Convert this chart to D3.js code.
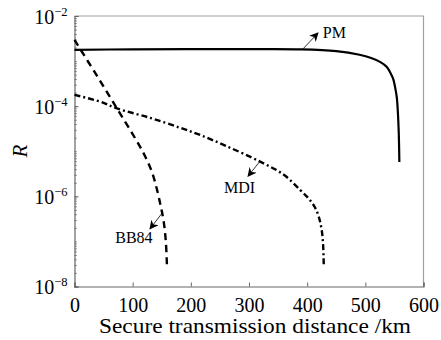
<!DOCTYPE html>
<html>
<head>
<meta charset="utf-8">
<script src="https://cdn.jsdelivr.net/npm/d3@7"></script>
<style>
  body { margin: 0; background: #fff; }
  svg { display: block; }
  svg text { font-family: "Liberation Serif", "DejaVu Serif", serif; }
</style>
</head>
<body>
<svg id="chart" width="441" height="340"></svg>
<script>
"use strict";

// distance /km and R
var pmDist   = [0, 100, 200, 300, 390, 450, 490, 510, 526, 537, 543, 548, 551, 554, 556, 557.5, 558.5];
var pmR      = [1.78e-3, 1.82e-3, 1.84e-3, 1.84e-3, 1.82e-3, 1.66e-3, 1.38e-3, 1.17e-3, 9.5e-4, 7.4e-4, 5.5e-4, 4.0e-4, 2.7e-4, 1.6e-4, 7.1e-5, 2.5e-5, 5.8e-6];
var mdiDist  = [0, 44, 73, 130, 182, 216, 260, 319, 360, 388, 402, 413, 420, 425, 427.5, 428.5];
var mdiR     = [1.78e-4, 1.26e-4, 8.9e-5, 5.5e-5, 3.3e-5, 2.3e-5, 1.32e-5, 5.9e-6, 3.0e-6, 1.38e-6, 9.1e-7, 5.8e-7, 3.5e-7, 1.78e-7, 8.0e-8, 3.0e-8];
var bb84Dist = [0, 40, 73, 100, 119, 133, 142, 148, 153, 157, 159];
var bb84R    = [2.95e-3, 4.4e-4, 8.9e-5, 2.4e-5, 8.9e-6, 3.5e-6, 1.38e-6, 6.3e-7, 2.95e-7, 1.0e-7, 2.75e-8];

var xTicks = [0, 100, 200, 300, 400, 500, 600];
var yMajor = [1e-2, 1e-4, 1e-6, 1e-8];
var yMajorExp = ["\u22122", "\u22124", "\u22126", "\u22128"];

var serif = '"Liberation Serif", "DejaVu Serif", serif';

var svg = d3.select("#chart"),
  margin = {top: 16, right: 17.5, bottom: 53.5, left: 74.5},
  width = 441 - margin.left - margin.right,
  height = 340 - margin.top - margin.bottom,
  g = svg.append("g").attr("transform", "translate(" + margin.left + "," + margin.top + ")"),
  x = d3.scaleLinear().domain([0, 600]).range([0, width]),
  y = d3.scaleLog().domain([1e-8, 1e-2]).range([height, 0])
;

// frame top / right
g.append("path")
  .attr("d", "M0,0H" + width + "V" + height)
  .attr("fill", "none")
  .attr("stroke", "#a0a0a0")
  .attr("stroke-width", 1.2);

// minor log ticks
var minor = [];
for (var e = -8; e < -2; e++) {
  for (var m = 1; m <= 9; m++) minor.push(m * Math.pow(10, e));
}
g.append("g")
  .call(d3.axisLeft(y).tickValues(minor).tickSize(-2.5).tickFormat(""))
  .call(function(a) { a.select(".domain").remove(); })
  .selectAll("line").attr("stroke", "#777").attr("stroke-width", 0.8);

// major y ticks + labels
var yAxis = g.append("g")
  .call(d3.axisLeft(y).tickValues(yMajor).tickSize(-4).tickFormat(""))
  .attr("font-family", serif);
yAxis.select(".domain").attr("stroke", "#666").attr("stroke-width", 1.2);
yAxis.selectAll("line").attr("stroke", "#666");
yAxis.selectAll(".tick").each(function(d, i) {
  var t = d3.select(this).append("text")
    .attr("x", -7)
    .attr("y", 7)
    .attr("text-anchor", "end")
    .attr("fill", "#000")
    .style("font-family", serif)
    .style("font-size", "20px");
  t.append("tspan").text("10");
  t.append("tspan").attr("dy", -8).style("font-size", "12.5px").text(yMajorExp[i]);
});

// x axis
var xAxis = g.append("g")
  .attr("transform", "translate(0," + height + ")")
  .call(d3.axisBottom(x).tickValues(xTicks).tickSize(-4).tickFormat(d3.format("d")))
  .attr("font-family", serif);
xAxis.select(".domain").attr("stroke", "#666").attr("stroke-width", 1.2);
xAxis.selectAll("line").attr("stroke", "#666");
xAxis.selectAll("text")
  .attr("y", 25.5).attr("dy", 0)
  .attr("fill", "#000")
  .style("font-family", serif)
  .style("font-size", "20px");

// curves
var line = d3.line()
  .x(function(d) { return x(d[0]); })
  .y(function(d) { return y(d[1]); })
  .curve(d3.curveCatmullRom.alpha(0.5));

var series = [
  {dist: pmDist, r: pmR, dash: null, w: 2.2},
  {dist: mdiDist, r: mdiR, dash: "6,3,2,3", w: 2.4},
  {dist: bb84Dist, r: bb84R, dash: "7,5", w: 2.4}
];
series.forEach(function(s) {
  g.append("path")
    .datum(d3.zip(s.dist, s.r))
    .attr("d", line)
    .attr("fill", "none")
    .attr("stroke", "#000")
    .attr("stroke-width", s.w)
    .attr("stroke-dasharray", s.dash);
});

// annotations (data coords): tail on curve, arrow head, label
svg.append("defs").append("marker")
  .attr("id", "arr")
  .attr("viewBox", "0 0 10 10")
  .attr("refX", 9).attr("refY", 5)
  .attr("markerWidth", 9).attr("markerHeight", 9)
  .attr("markerUnits", "userSpaceOnUse")
  .attr("orient", "auto")
  .append("path")
  .attr("d", "M0,0L10,5L0,10L3,5Z")
  .attr("fill", "#000");

var notes = [
  {name: "PM",   tail: [392.8, 1.86e-3], head: [418.6, 4.2e-3], label: [427, 3.2e-3]},
  {name: "MDI",  tail: [318.9, 6.0e-6],  head: [298.3, 2.8e-6], label: [257, 1.17e-6]},
  {name: "BB84", tail: [152.1, 4.5e-7],  head: [129.8, 1.9e-7], label: [70, 9.1e-8]}
];
notes.forEach(function(n) {
  g.append("line")
    .attr("x1", x(n.tail[0])).attr("y1", y(n.tail[1]))
    .attr("x2", x(n.head[0])).attr("y2", y(n.head[1]))
    .attr("stroke", "#000")
    .attr("stroke-width", 0.8)
    .attr("marker-end", "url(#arr)");
  g.append("text")
    .attr("x", x(n.label[0])).attr("y", y(n.label[1]))
    .style("font-size", "16px")
    .text(n.name);
});

// axis titles
svg.append("text")
  .attr("x", 255).attr("y", 333)
  .attr("text-anchor", "middle")
  .attr("textLength", 312)
  .attr("lengthAdjust", "spacingAndGlyphs")
  .style("font-size", "21px")
  .text("Secure transmission distance /km");

svg.append("text")
  .attr("transform", "translate(27,151) rotate(-90)")
  .attr("text-anchor", "middle")
  .style("font-size", "21px")
  .style("font-style", "italic")
  .text("R");
</script>
</body>
</html>
